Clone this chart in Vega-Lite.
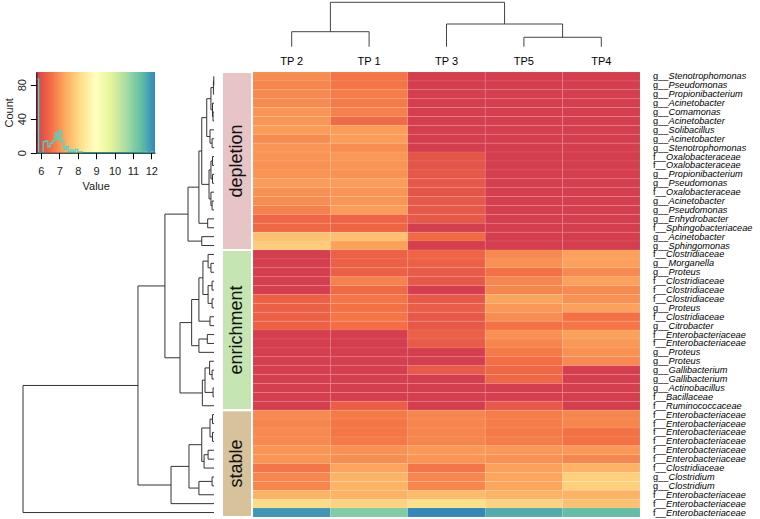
{
"$schema": "https://vega.github.io/schema/vega-lite/v6.json",
"width": 760, "height": 519, "autosize": "none", "padding": 0, "background": "white",
"config": {"view": {"stroke": null}, "font": "Liberation Sans"},
"datasets": {
"cells": [
{"r":1,"c":"TP 2","v":6.95},{"r":1,"c":"TP 1","v":6.65},{"r":1,"c":"TP 3","v":5.75},{"r":1,"c":"TP5","v":5.75},{"r":1,"c":"TP4","v":5.75},
{"r":2,"c":"TP 2","v":6.85},{"r":2,"c":"TP 1","v":6.65},{"r":2,"c":"TP 3","v":5.75},{"r":2,"c":"TP5","v":5.75},{"r":2,"c":"TP4","v":5.75},
{"r":3,"c":"TP 2","v":6.9},{"r":3,"c":"TP 1","v":6.75},{"r":3,"c":"TP 3","v":5.75},{"r":3,"c":"TP5","v":5.75},{"r":3,"c":"TP4","v":5.75},
{"r":4,"c":"TP 2","v":6.9},{"r":4,"c":"TP 1","v":6.7},{"r":4,"c":"TP 3","v":5.75},{"r":4,"c":"TP5","v":5.75},{"r":4,"c":"TP4","v":5.75},
{"r":5,"c":"TP 2","v":7.05},{"r":5,"c":"TP 1","v":6.8},{"r":5,"c":"TP 3","v":5.75},{"r":5,"c":"TP5","v":5.75},{"r":5,"c":"TP4","v":5.75},
{"r":6,"c":"TP 2","v":7.05},{"r":6,"c":"TP 1","v":6.5},{"r":6,"c":"TP 3","v":5.75},{"r":6,"c":"TP5","v":5.75},{"r":6,"c":"TP4","v":5.75},
{"r":7,"c":"TP 2","v":7.15},{"r":7,"c":"TP 1","v":7.15},{"r":7,"c":"TP 3","v":5.75},{"r":7,"c":"TP5","v":5.75},{"r":7,"c":"TP4","v":5.75},
{"r":8,"c":"TP 2","v":6.95},{"r":8,"c":"TP 1","v":7.15},{"r":8,"c":"TP 3","v":5.75},{"r":8,"c":"TP5","v":5.75},{"r":8,"c":"TP4","v":5.75},
{"r":9,"c":"TP 2","v":7.05},{"r":9,"c":"TP 1","v":6.95},{"r":9,"c":"TP 3","v":5.75},{"r":9,"c":"TP5","v":5.75},{"r":9,"c":"TP4","v":5.75},
{"r":10,"c":"TP 2","v":7.05},{"r":10,"c":"TP 1","v":7.1},{"r":10,"c":"TP 3","v":6.15},{"r":10,"c":"TP5","v":5.75},{"r":10,"c":"TP4","v":5.75},
{"r":11,"c":"TP 2","v":7.0},{"r":11,"c":"TP 1","v":7.05},{"r":11,"c":"TP 3","v":6.15},{"r":11,"c":"TP5","v":5.75},{"r":11,"c":"TP4","v":5.75},
{"r":12,"c":"TP 2","v":7.05},{"r":12,"c":"TP 1","v":7.0},{"r":12,"c":"TP 3","v":6.2},{"r":12,"c":"TP5","v":5.75},{"r":12,"c":"TP4","v":5.75},
{"r":13,"c":"TP 2","v":7.15},{"r":13,"c":"TP 1","v":7.15},{"r":13,"c":"TP 3","v":6.2},{"r":13,"c":"TP5","v":5.75},{"r":13,"c":"TP4","v":5.75},
{"r":14,"c":"TP 2","v":7.0},{"r":14,"c":"TP 1","v":7.05},{"r":14,"c":"TP 3","v":6.15},{"r":14,"c":"TP5","v":5.75},{"r":14,"c":"TP4","v":5.75},
{"r":15,"c":"TP 2","v":6.95},{"r":15,"c":"TP 1","v":7.05},{"r":15,"c":"TP 3","v":6.2},{"r":15,"c":"TP5","v":5.75},{"r":15,"c":"TP4","v":5.75},
{"r":16,"c":"TP 2","v":6.8},{"r":16,"c":"TP 1","v":7.15},{"r":16,"c":"TP 3","v":6.2},{"r":16,"c":"TP5","v":5.75},{"r":16,"c":"TP4","v":5.75},
{"r":17,"c":"TP 2","v":6.45},{"r":17,"c":"TP 1","v":6.4},{"r":17,"c":"TP 3","v":6.2},{"r":17,"c":"TP5","v":5.75},{"r":17,"c":"TP4","v":5.75},
{"r":18,"c":"TP 2","v":6.45},{"r":18,"c":"TP 1","v":6.4},{"r":18,"c":"TP 3","v":5.75},{"r":18,"c":"TP5","v":5.75},{"r":18,"c":"TP4","v":5.75},
{"r":19,"c":"TP 2","v":7.65},{"r":19,"c":"TP 1","v":7.65},{"r":19,"c":"TP 3","v":6.5},{"r":19,"c":"TP5","v":5.75},{"r":19,"c":"TP4","v":5.75},
{"r":20,"c":"TP 2","v":7.85},{"r":20,"c":"TP 1","v":7.2},{"r":20,"c":"TP 3","v":5.75},{"r":20,"c":"TP5","v":5.75},{"r":20,"c":"TP4","v":5.75},
{"r":21,"c":"TP 2","v":5.75},{"r":21,"c":"TP 1","v":6.35},{"r":21,"c":"TP 3","v":6.4},{"r":21,"c":"TP5","v":6.9},{"r":21,"c":"TP4","v":7.2},
{"r":22,"c":"TP 2","v":5.75},{"r":22,"c":"TP 1","v":6.35},{"r":22,"c":"TP 3","v":6.35},{"r":22,"c":"TP5","v":7.0},{"r":22,"c":"TP4","v":7.2},
{"r":23,"c":"TP 2","v":5.75},{"r":23,"c":"TP 1","v":6.35},{"r":23,"c":"TP 3","v":6.25},{"r":23,"c":"TP5","v":6.6},{"r":23,"c":"TP4","v":6.9},
{"r":24,"c":"TP 2","v":5.75},{"r":24,"c":"TP 1","v":6.8},{"r":24,"c":"TP 3","v":6.2},{"r":24,"c":"TP5","v":6.85},{"r":24,"c":"TP4","v":7.2},
{"r":25,"c":"TP 2","v":5.75},{"r":25,"c":"TP 1","v":6.5},{"r":25,"c":"TP 3","v":5.75},{"r":25,"c":"TP5","v":6.85},{"r":25,"c":"TP4","v":6.9},
{"r":26,"c":"TP 2","v":6.35},{"r":26,"c":"TP 1","v":6.65},{"r":26,"c":"TP 3","v":6.2},{"r":26,"c":"TP5","v":7.25},{"r":26,"c":"TP4","v":7.0},
{"r":27,"c":"TP 2","v":6.35},{"r":27,"c":"TP 1","v":6.6},{"r":27,"c":"TP 3","v":6.3},{"r":27,"c":"TP5","v":7.1},{"r":27,"c":"TP4","v":7.2},
{"r":28,"c":"TP 2","v":6.35},{"r":28,"c":"TP 1","v":6.65},{"r":28,"c":"TP 3","v":6.2},{"r":28,"c":"TP5","v":6.95},{"r":28,"c":"TP4","v":6.6},
{"r":29,"c":"TP 2","v":6.35},{"r":29,"c":"TP 1","v":6.55},{"r":29,"c":"TP 3","v":6.2},{"r":29,"c":"TP5","v":6.6},{"r":29,"c":"TP4","v":6.65},
{"r":30,"c":"TP 2","v":5.75},{"r":30,"c":"TP 1","v":5.75},{"r":30,"c":"TP 3","v":6.35},{"r":30,"c":"TP5","v":7.0},{"r":30,"c":"TP4","v":7.2},
{"r":31,"c":"TP 2","v":5.75},{"r":31,"c":"TP 1","v":5.75},{"r":31,"c":"TP 3","v":6.25},{"r":31,"c":"TP5","v":6.85},{"r":31,"c":"TP4","v":7.1},
{"r":32,"c":"TP 2","v":5.75},{"r":32,"c":"TP 1","v":5.75},{"r":32,"c":"TP 3","v":5.75},{"r":32,"c":"TP5","v":6.7},{"r":32,"c":"TP4","v":7.0},
{"r":33,"c":"TP 2","v":5.75},{"r":33,"c":"TP 1","v":5.75},{"r":33,"c":"TP 3","v":5.75},{"r":33,"c":"TP5","v":6.55},{"r":33,"c":"TP4","v":6.9},
{"r":34,"c":"TP 2","v":5.75},{"r":34,"c":"TP 1","v":5.75},{"r":34,"c":"TP 3","v":6.25},{"r":34,"c":"TP5","v":6.45},{"r":34,"c":"TP4","v":5.75},
{"r":35,"c":"TP 2","v":5.75},{"r":35,"c":"TP 1","v":5.75},{"r":35,"c":"TP 3","v":5.75},{"r":35,"c":"TP5","v":6.45},{"r":35,"c":"TP4","v":5.75},
{"r":36,"c":"TP 2","v":5.75},{"r":36,"c":"TP 1","v":5.75},{"r":36,"c":"TP 3","v":5.75},{"r":36,"c":"TP5","v":5.75},{"r":36,"c":"TP4","v":5.75},
{"r":37,"c":"TP 2","v":5.75},{"r":37,"c":"TP 1","v":5.75},{"r":37,"c":"TP 3","v":5.75},{"r":37,"c":"TP5","v":5.75},{"r":37,"c":"TP4","v":5.75},
{"r":38,"c":"TP 2","v":5.75},{"r":38,"c":"TP 1","v":6.3},{"r":38,"c":"TP 3","v":5.75},{"r":38,"c":"TP5","v":6.2},{"r":38,"c":"TP4","v":5.75},
{"r":39,"c":"TP 2","v":6.9},{"r":39,"c":"TP 1","v":6.7},{"r":39,"c":"TP 3","v":6.85},{"r":39,"c":"TP5","v":6.75},{"r":39,"c":"TP4","v":6.85},
{"r":40,"c":"TP 2","v":6.85},{"r":40,"c":"TP 1","v":6.65},{"r":40,"c":"TP 3","v":6.85},{"r":40,"c":"TP5","v":6.75},{"r":40,"c":"TP4","v":6.85},
{"r":41,"c":"TP 2","v":6.9},{"r":41,"c":"TP 1","v":6.65},{"r":41,"c":"TP 3","v":6.85},{"r":41,"c":"TP5","v":6.7},{"r":41,"c":"TP4","v":6.6},
{"r":42,"c":"TP 2","v":6.9},{"r":42,"c":"TP 1","v":6.7},{"r":42,"c":"TP 3","v":6.85},{"r":42,"c":"TP5","v":6.75},{"r":42,"c":"TP4","v":6.6},
{"r":43,"c":"TP 2","v":7.05},{"r":43,"c":"TP 1","v":7.0},{"r":43,"c":"TP 3","v":7.1},{"r":43,"c":"TP5","v":7.1},{"r":43,"c":"TP4","v":7.1},
{"r":44,"c":"TP 2","v":7.05},{"r":44,"c":"TP 1","v":6.95},{"r":44,"c":"TP 3","v":7.05},{"r":44,"c":"TP5","v":7.0},{"r":44,"c":"TP4","v":6.85},
{"r":45,"c":"TP 2","v":6.65},{"r":45,"c":"TP 1","v":7.25},{"r":45,"c":"TP 3","v":6.65},{"r":45,"c":"TP5","v":7.2},{"r":45,"c":"TP4","v":7.45},
{"r":46,"c":"TP 2","v":6.85},{"r":46,"c":"TP 1","v":7.45},{"r":46,"c":"TP 3","v":6.85},{"r":46,"c":"TP5","v":7.25},{"r":46,"c":"TP4","v":7.9},
{"r":47,"c":"TP 2","v":6.85},{"r":47,"c":"TP 1","v":7.45},{"r":47,"c":"TP 3","v":6.85},{"r":47,"c":"TP5","v":7.25},{"r":47,"c":"TP4","v":7.9},
{"r":48,"c":"TP 2","v":7.45},{"r":48,"c":"TP 1","v":7.45},{"r":48,"c":"TP 3","v":7.55},{"r":48,"c":"TP5","v":7.45},{"r":48,"c":"TP4","v":7.45},
{"r":49,"c":"TP 2","v":8.1},{"r":49,"c":"TP 1","v":7.95},{"r":49,"c":"TP 3","v":8.15},{"r":49,"c":"TP5","v":7.95},{"r":49,"c":"TP4","v":7.65},
{"r":50,"c":"TP 2","v":12.0},{"r":50,"c":"TP 1","v":11.1},{"r":50,"c":"TP 3","v":12.2},{"r":50,"c":"TP5","v":11.7},{"r":50,"c":"TP4","v":11.45}
],
"rows": [
{"r":1,"p":"g__","n":"Stenotrophomonas"},{"r":2,"p":"g__","n":"Pseudomonas"},{"r":3,"p":"g__","n":"Propionibacterium"},{"r":4,"p":"g__","n":"Acinetobacter"},{"r":5,"p":"g__","n":"Comamonas"},
{"r":6,"p":"g__","n":"Acinetobacter"},{"r":7,"p":"g__","n":"Solibacillus"},{"r":8,"p":"g__","n":"Acinetobacter"},{"r":9,"p":"g__","n":"Stenotrophomonas"},{"r":10,"p":"f__","n":"Oxalobacteraceae"},
{"r":11,"p":"f__","n":"Oxalobacteraceae"},{"r":12,"p":"g__","n":"Propionibacterium"},{"r":13,"p":"g__","n":"Pseudomonas"},{"r":14,"p":"f__","n":"Oxalobacteraceae"},{"r":15,"p":"g__","n":"Acinetobacter"},
{"r":16,"p":"g__","n":"Pseudomonas"},{"r":17,"p":"g__","n":"Enhydrobacter"},{"r":18,"p":"f__","n":"Sphingobacteriaceae"},{"r":19,"p":"g__","n":"Acinetobacter"},{"r":20,"p":"g__","n":"Sphingomonas"},
{"r":21,"p":"f__","n":"Clostridiaceae"},{"r":22,"p":"g__","n":"Morganella"},{"r":23,"p":"g__","n":"Proteus"},{"r":24,"p":"f__","n":"Clostridiaceae"},{"r":25,"p":"f__","n":"Clostridiaceae"},
{"r":26,"p":"f__","n":"Clostridiaceae"},{"r":27,"p":"g__","n":"Proteus"},{"r":28,"p":"f__","n":"Clostridiaceae"},{"r":29,"p":"g__","n":"Citrobacter"},{"r":30,"p":"f__","n":"Enterobacteriaceae"},
{"r":31,"p":"f__","n":"Enterobacteriaceae"},{"r":32,"p":"g__","n":"Proteus"},{"r":33,"p":"g__","n":"Proteus"},{"r":34,"p":"g__","n":"Gallibacterium"},{"r":35,"p":"g__","n":"Gallibacterium"},
{"r":36,"p":"g__","n":"Actinobacillus"},{"r":37,"p":"f__","n":"Bacillaceae"},{"r":38,"p":"f__","n":"Ruminococcaceae"},{"r":39,"p":"f__","n":"Enterobacteriaceae"},{"r":40,"p":"f__","n":"Enterobacteriaceae"},
{"r":41,"p":"f__","n":"Enterobacteriaceae"},{"r":42,"p":"f__","n":"Enterobacteriaceae"},{"r":43,"p":"f__","n":"Enterobacteriaceae"},{"r":44,"p":"f__","n":"Enterobacteriaceae"},{"r":45,"p":"f__","n":"Clostridiaceae"},
{"r":46,"p":"g__","n":"Clostridium"},{"r":47,"p":"g__","n":"Clostridium"},{"r":48,"p":"f__","n":"Enterobacteriaceae"},{"r":49,"p":"f__","n":"Enterobacteriaceae"},{"r":50,"p":"f__","n":"Enterobacteriaceae"}
],
"rowtree": [
{"h":0.01,"ya":1,"ha":0,"yb":2,"hb":0},
{"h":0.03,"ya":1.5,"ha":0.01,"yb":3,"hb":0},
{"h":0.05,"ya":5,"ha":0,"yb":6,"hb":0},
{"h":0.08,"ya":4,"ha":0,"yb":5.5,"hb":0.05},
{"h":0.16,"ya":2.25,"ha":0.03,"yb":4.75,"hb":0.08},
{"h":0.1,"ya":8,"ha":0,"yb":9,"hb":0},
{"h":0.21,"ya":7,"ha":0,"yb":8.5,"hb":0.1},
{"h":0.38,"ya":3.5,"ha":0.16,"yb":7.75,"hb":0.21},
{"h":0.08,"ya":10,"ha":0,"yb":11,"hb":0},
{"h":0.08,"ya":12,"ha":0,"yb":13,"hb":0},
{"h":0.16,"ya":10.5,"ha":0.08,"yb":12.5,"hb":0.08},
{"h":0.1,"ya":15,"ha":0,"yb":16,"hb":0},
{"h":0.16,"ya":14,"ha":0,"yb":15.5,"hb":0.1},
{"h":0.26,"ya":11.5,"ha":0.16,"yb":14.75,"hb":0.16},
{"h":0.64,"ya":5.625,"ha":0.38,"yb":13.125,"hb":0.26},
{"h":0.33,"ya":17,"ha":0,"yb":18,"hb":0},
{"h":0.79,"ya":9.375,"ha":0.64,"yb":17.5,"hb":0.33},
{"h":0.64,"ya":19,"ha":0,"yb":20,"hb":0},
{"h":1.36,"ya":13.4375,"ha":0.79,"yb":19.5,"hb":0.64},
{"h":0.16,"ya":22,"ha":0,"yb":23,"hb":0},
{"h":0.31,"ya":21,"ha":0,"yb":22.5,"hb":0.16},
{"h":0.1,"ya":24,"ha":0,"yb":25,"hb":0},
{"h":0.1,"ya":26,"ha":0,"yb":27,"hb":0},
{"h":0.31,"ya":24.5,"ha":0.1,"yb":26.5,"hb":0.1},
{"h":0.58,"ya":21.75,"ha":0.31,"yb":25.5,"hb":0.31},
{"h":0.21,"ya":28,"ha":0,"yb":29,"hb":0},
{"h":0.79,"ya":23.625,"ha":0.58,"yb":28.5,"hb":0.21},
{"h":0.35,"ya":30,"ha":0,"yb":31,"hb":0},
{"h":0.79,"ya":30.5,"ha":0.35,"yb":32,"hb":0},
{"h":1.17,"ya":26.0625,"ha":0.79,"yb":31.25,"hb":0.79},
{"h":0.1,"ya":34,"ha":0,"yb":35,"hb":0},
{"h":0.23,"ya":33,"ha":0,"yb":34.5,"hb":0.1},
{"h":0.05,"ya":36,"ha":0,"yb":37,"hb":0},
{"h":0.47,"ya":33.75,"ha":0.23,"yb":36.5,"hb":0.05},
{"h":0.61,"ya":35.125,"ha":0.47,"yb":38,"hb":0},
{"h":1.78,"ya":28.65625,"ha":1.17,"yb":36.5625,"hb":0.61},
{"h":2.57,"ya":16.46875,"ha":1.36,"yb":32.609375,"hb":1.78},
{"h":0.08,"ya":39,"ha":0,"yb":40,"hb":0},
{"h":0.08,"ya":41,"ha":0,"yb":42,"hb":0},
{"h":0.21,"ya":39.5,"ha":0.08,"yb":41.5,"hb":0.08},
{"h":0.31,"ya":43,"ha":0,"yb":44,"hb":0},
{"h":0.52,"ya":43.5,"ha":0.31,"yb":45,"hb":0},
{"h":0.64,"ya":40.5,"ha":0.21,"yb":44.25,"hb":0.52},
{"h":0.1,"ya":46,"ha":0,"yb":47,"hb":0},
{"h":0.79,"ya":46.5,"ha":0.1,"yb":48,"hb":0},
{"h":1.31,"ya":42.375,"ha":0.64,"yb":47.25,"hb":0.79},
{"h":2.25,"ya":44.8125,"ha":1.31,"yb":49,"hb":0},
{"h":3.98,"ya":24.5390625,"ha":2.57,"yb":46.90625,"hb":2.25},
{"h":10,"ya":35.72265625,"ha":3.98,"yb":50,"hb":0}
],
"coltree": [
{"h":0.338,"xa":0,"ha":0,"xb":1,"hb":0},
{"h":0.212,"xa":3,"ha":0,"xb":4,"hb":0},
{"h":0.511,"xa":2,"ha":0,"xb":3.5,"hb":0.212},
{"h":1.0,"xa":0.5,"ha":0.338,"xb":2.75,"hb":0.511}
],
"cols": [{"i":0,"c":"TP 2"},{"i":1,"c":"TP 1"},{"i":2,"c":"TP 3"},{"i":3,"c":"TP5"},{"i":4,"c":"TP4"}],
"groups": [{"g":"depletion","r1":0.5,"r2":20.5},{"g":"enrichment","r1":20.5,"r2":38.5},{"g":"stable","r1":38.5,"r2":50.5}]
},
"layer": [
{
"data": {"name": "cells"},
"mark": {"type": "rect", "stroke": "#ffffff", "strokeWidth": 0.4, "strokeOpacity": 0.2},
"encoding": {
"x": {"field": "c", "type": "nominal", "sort": ["TP 2","TP 1","TP 3","TP5","TP4"], "scale": {"domain": ["TP 2","TP 1","TP 3","TP5","TP4"], "range": [253, 640], "paddingInner": 0, "paddingOuter": 0}, "axis": null},
"y": {"field": "r", "type": "ordinal", "sort": "ascending", "scale": {"range": [72, 517], "paddingInner": 0, "paddingOuter": 0}, "axis": null},
"color": {"field": "v", "type": "quantitative", "scale": {"domain": [5.75, 12.2], "range": ["#D53E4F","#F46D43","#FDAE61","#FEE08B","#FFFFBF","#E6F598","#ABDDA4","#66C2A5","#3288BD"], "interpolate": "rgb"}, "legend": null}
}
},
{
"layer": [
{
"data": {"name": "rowtree"},
"layer": [
{"mark": {"type": "rule", "color": "#333333", "strokeWidth": 1},
 "encoding": {"x": {"field": "h", "type": "quantitative", "scale": {"domain": [0, 10], "range": [214, 23], "nice": false, "zero": false}, "axis": null},
  "y": {"field": "ya", "type": "quantitative", "scale": {"domain": [0.5, 50.5], "range": [72, 517], "nice": false, "zero": false}, "axis": null},
  "y2": {"field": "yb"}}},
{"mark": {"type": "rule", "color": "#333333", "strokeWidth": 1},
 "encoding": {"x": {"field": "ha", "type": "quantitative"}, "x2": {"field": "h"},
  "y": {"field": "ya", "type": "quantitative"}}},
{"mark": {"type": "rule", "color": "#333333", "strokeWidth": 1},
 "encoding": {"x": {"field": "hb", "type": "quantitative"}, "x2": {"field": "h"},
  "y": {"field": "yb", "type": "quantitative"}}}
]
},
{
"data": {"name": "groups"},
"transform": [{"calculate": "(datum.r1 + datum.r2) / 2", "as": "mid"}],
"layer": [
{"mark": {"type": "rect", "stroke": "#ffffff", "strokeWidth": 2},
 "encoding": {"x": {"datum": 0, "type": "quantitative", "scale": {"domain": [0, 1], "range": [222, 252], "nice": false, "zero": false}, "axis": null},
  "x2": {"datum": 1},
  "y": {"field": "r1", "type": "quantitative", "scale": {"domain": [0.5, 50.5], "range": [72, 517], "nice": false, "zero": false}, "axis": null},
  "y2": {"field": "r2"},
  "color": {"field": "g", "type": "nominal", "scale": {"domain": ["depletion","enrichment","stable"], "range": ["#E7C4C5","#C5E6B3","#D7C29C"]}, "legend": null}}},
{"mark": {"type": "text", "angle": 270, "fontSize": 18, "align": "center", "baseline": "middle", "color": "#111111"},
 "encoding": {"x": {"datum": 0.5, "type": "quantitative"},
  "y": {"field": "mid", "type": "quantitative"},
  "text": {"field": "g"}}}
]
},
{
"data": {"name": "rows"},
"layer": [
{"mark": {"type": "text", "align": "left", "baseline": "middle", "fontSize": 9.2, "color": "#000000"},
 "encoding": {"x": {"datum": 0, "type": "quantitative", "scale": {"domain": [0, 1], "range": [653, 760], "nice": false, "zero": false}, "axis": null},
  "y": {"field": "r", "type": "quantitative", "scale": {"domain": [0.5, 50.5], "range": [72, 517], "nice": false, "zero": false}, "axis": null},
  "text": {"field": "p"}}},
{"transform": [{"filter": "datum.p === 'g__'"}],
 "mark": {"type": "text", "align": "left", "baseline": "middle", "fontSize": 9.2, "fontStyle": "italic", "dx": 15.6, "color": "#000000"},
 "encoding": {"x": {"datum": 0, "type": "quantitative"},
  "y": {"field": "r", "type": "quantitative"},
  "text": {"field": "n"}}},
{"transform": [{"filter": "datum.p === 'f__'"}],
 "mark": {"type": "text", "align": "left", "baseline": "middle", "fontSize": 9.2, "fontStyle": "italic", "dx": 13.1, "color": "#000000"},
 "encoding": {"x": {"datum": 0, "type": "quantitative"},
  "y": {"field": "r", "type": "quantitative"},
  "text": {"field": "n"}}}
]
}
],
"resolve": {"scale": {"x": "independent", "color": "independent"}}
},
{
"layer": [
{
"data": {"name": "coltree"},
"layer": [
{"mark": {"type": "rule", "color": "#444444", "strokeWidth": 1},
 "encoding": {"x": {"field": "xa", "type": "quantitative", "scale": {"domain": [-0.5, 4.5], "range": [253, 640], "nice": false, "zero": false}, "axis": null},
  "x2": {"field": "xb"},
  "y": {"field": "h", "type": "quantitative", "scale": {"domain": [0, 1], "range": [46.7, 2.3], "nice": false, "zero": false}, "axis": null}}},
{"mark": {"type": "rule", "color": "#444444", "strokeWidth": 1},
 "encoding": {"x": {"field": "xa", "type": "quantitative"},
  "y": {"field": "ha", "type": "quantitative"}, "y2": {"field": "h"}}},
{"mark": {"type": "rule", "color": "#444444", "strokeWidth": 1},
 "encoding": {"x": {"field": "xb", "type": "quantitative"},
  "y": {"field": "hb", "type": "quantitative"}, "y2": {"field": "h"}}}
]
},
{
"data": {"name": "cols"},
"mark": {"type": "text", "fontSize": 11, "align": "center", "baseline": "alphabetic", "color": "#000000"},
"encoding": {"x": {"field": "i", "type": "quantitative"},
 "y": {"datum": -0.41, "type": "quantitative"},
 "text": {"field": "c"}}
}
]
},
{
"layer": [
{
"data": {"values": [{}]},
"mark": {"type": "rect", "fill": {"gradient": "linear", "x1": 0, "y1": 0, "x2": 1, "y2": 0, "stops": [
 {"offset": 0, "color": "#D53E4F"},{"offset": 0.125, "color": "#F46D43"},{"offset": 0.25, "color": "#FDAE61"},{"offset": 0.375, "color": "#FEE08B"},{"offset": 0.5, "color": "#FFFFBF"},{"offset": 0.625, "color": "#E6F598"},{"offset": 0.75, "color": "#ABDDA4"},{"offset": 0.875, "color": "#66C2A5"},{"offset": 1, "color": "#3288BD"}]}},
"encoding": {
 "x": {"datum": 5.75, "type": "quantitative", "scale": {"domain": [5.75, 12.2], "range": [36.3, 155], "nice": false, "zero": false},
  "axis": {"orient": "bottom", "offset": -366.3, "values": [6,7,8,9,10,11,12], "format": "d", "title": "Value", "grid": false, "domainColor": "#000000", "tickColor": "#000000", "tickSize": 6, "labelFontSize": 11, "labelColor": "#222222", "labelPadding": 7, "labelFlush": false, "labelOverlap": false, "titleFontSize": 11, "titleColor": "#222222", "titleFontWeight": "normal", "titlePadding": 4, "zindex": 1}},
 "x2": {"datum": 12.2},
 "y": {"datum": 0, "type": "quantitative", "scale": {"domain": [0, 95], "range": [152.7, 72], "nice": false, "zero": false},
  "axis": {"orient": "left", "offset": -36.3, "values": [0, 40, 80], "format": "d", "title": "Count", "grid": false, "domainColor": "#000000", "tickColor": "#000000", "tickSize": 6, "labelAngle": 270, "labelFontSize": 11, "labelColor": "#222222", "labelPadding": 3, "titleFontSize": 11, "titleColor": "#222222", "titleFontWeight": "normal", "titlePadding": 2, "zindex": 1}},
 "y2": {"datum": 95}
}
},
{
"data": {"name": "cells"},
"transform": [
 {"bin": {"step": 0.125, "extent": [5.75, 12.25], "nice": false}, "field": "v", "as": "b"},
 {"aggregate": [{"op": "count", "as": "n"}], "groupby": ["b"]},
 {"impute": "n", "key": "b", "keyvals": {"start": 5.75, "stop": 12.25, "step": 0.125}, "method": "value", "value": 0}
],
"mark": {"type": "line", "interpolate": "step-after", "color": "#3EDBD0", "strokeWidth": 1.3},
"encoding": {
 "x": {"field": "b", "type": "quantitative"},
 "y": {"field": "n", "type": "quantitative"}
}
}
]
}
],
"resolve": {"scale": {"x": "independent", "y": "independent", "color": "independent"}}
}
